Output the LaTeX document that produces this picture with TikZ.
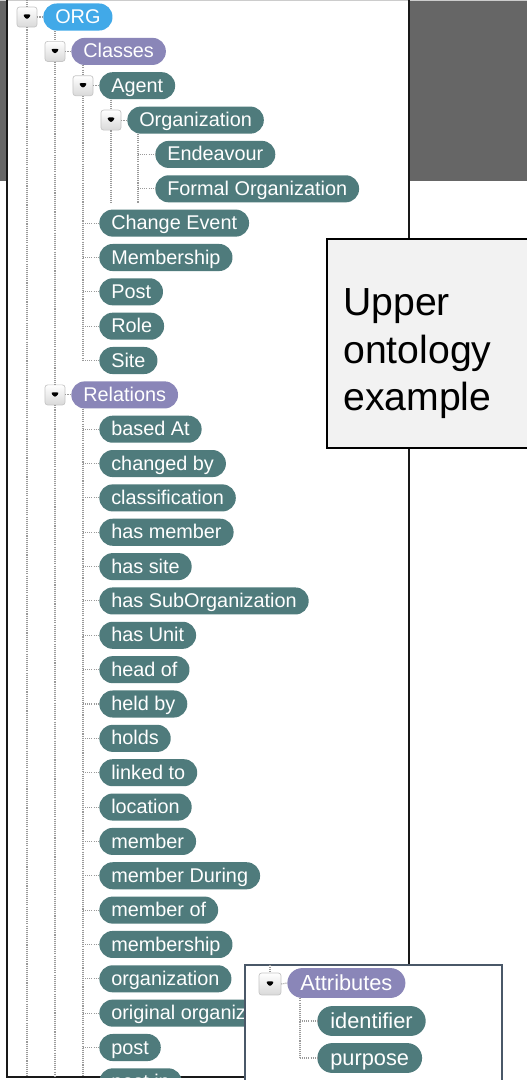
\documentclass[tikz,border=0pt]{standalone}
\usepackage{fontspec}
\setmainfont{Liberation Sans}

\definecolor{orgblue}{HTML}{41A9E8}
\definecolor{grpviolet}{HTML}{8A86B8}
\definecolor{leafteal}{HTML}{4F7B7C}
\definecolor{topgrey}{HTML}{666666}
\definecolor{spinegrey}{HTML}{9A9A9A}
\definecolor{notefill}{HTML}{F2F2F2}
\definecolor{insetedge}{HTML}{4A5868}

\tikzset{
  pill/.style={rounded corners=7.6pt, minimum height=15.4pt, inner xsep=6.8pt, inner ysep=0pt,
    text=white, text height=8pt, text depth=0.5pt, font=\fontsize{11.3}{13}\selectfont, anchor=west},
  orgpill/.style={pill, fill=orgblue},
  grppill/.style={pill, fill=grpviolet},
  leafpill/.style={pill, fill=leafteal},
  bigpill/.style={rounded corners=8.5pt, minimum height=17pt, inner xsep=7.4pt,
    text height=8.9pt, text depth=0.5pt, font=\fontsize{12.4}{14}\selectfont},
  toggle/.style={rectangle, rounded corners=1.5pt, minimum size=11.4pt, inner sep=0pt,
    draw=gray!45, top color=white, bottom color=gray!30,
    path picture={\fill[black] ([xshift=-2.6pt,yshift=1.5pt]path picture bounding box.center)
      -- ++(5.2pt,0) -- ++(-2.6pt,-3.2pt) -- cycle;}},
  dotline/.style={draw=spinegrey, line width=0.6pt, dash pattern=on 0.6pt off 0.6pt},
}

\begin{document}
\begin{tikzpicture}[x=0.02cm, y=-0.02cm]
  \useasboundingbox (0,0) rectangle (527,1080);

  % Grey backdrop and tree panel
  \fill [topgrey] (0,0) rectangle (527,181);
  \fill [white] (7,0) rectangle (409,1077);
  \draw [gray!40, line width=0.8pt] (0,0.5) -- (527,0.5);
  \draw [black!90, line width=1.1pt] (7,0) -- (7,1077) -- (409,1077) -- (409,0);
  \coordinate (paneltop) at (0,0);
  \coordinate (panelbottom) at (0,1077);

  % Classes branch
  \node (tORG) [toggle] at (27,17) {};
  \node (org) [orgpill] at (43,17) {ORG};
  \node (tClasses) [toggle] at (55,51.4) {};
  \node (classes) [grppill] at (71,51.4) {Classes};
  \node (tAgent) [toggle] at (83,85.7) {};
  \node (agent) [leafpill] at (99,85.7) {Agent};
  \node (tOrganization) [toggle] at (111,120.1) {};
  \node (organization) [leafpill] at (127,120.1) {Organization};
  \node (endeavour) [leafpill] at (155,154.4) {Endeavour};
  \node (formalorg) [leafpill] at (155,188.8) {Formal Organization};
  \node (changeevent) [leafpill] at (99,223.1) {Change Event};
  \node (membership) [leafpill] at (99,257.5) {Membership};
  \node (post) [leafpill] at (99,291.8) {Post};
  \node (role) [leafpill] at (99,326.2) {Role};
  \node (site) [leafpill] at (99,360.5) {Site};

  % Relations branch
  \node (tRelations) [toggle] at (55,394.9) {};
  \node (relations) [grppill] at (71,394.9) {Relations};
  \begin{scope}
    \clip (7,0) rectangle (409,1077);
    \foreach \rel [count=\i from 12] in {based At, changed by, classification, has member,
        has site, has SubOrganization, has Unit, head of, held by, holds, linked to,
        location, member, member During, member of, membership, organization,
        original organization, post, post in}
      \node (rel\i) [leafpill] at (99,{17+34.35*\i}) {\rel};
  \end{scope}

  % Tree lines
  \draw [dotline] (tORG |- paneltop) -- (tORG.north);
  \draw [dotline] (tORG.south) -- (tORG |- panelbottom);
  \draw [dotline] (tClasses |- org.south) -- (tClasses.north);
  \draw [dotline] (tClasses.south) -- (tRelations.north);
  \draw [dotline] (tRelations.south) -- (tRelations |- panelbottom);
  \draw [dotline] (tAgent |- classes.south) -- (tAgent.north);
  \draw [dotline] (tAgent.south) -- (tAgent |- site.west);
  \draw [dotline] (tOrganization |- agent.south) -- (tOrganization.north);
  \draw [dotline] (tOrganization.south) -- (tOrganization |- formalorg.south);
  \coordinate (orgspine) at (138,0);
  \draw [dotline] (orgspine |- organization.south) -- (orgspine |- formalorg.south);
  \coordinate (relspine) at (83,0);
  \draw [dotline] (relspine |- relations.south) -- (relspine |- panelbottom);

  \foreach \t/\p in {tORG/org, tClasses/classes, tAgent/agent, tOrganization/organization,
      tRelations/relations}
    \draw [dotline] (\t.east) -- (\p.west);
  \foreach \p in {endeavour, formalorg}
    \draw [dotline] (orgspine |- \p.west) -- (\p.west);
  \foreach \p in {changeevent, membership, post, role, site}
    \draw [dotline] (tAgent |- \p.west) -- (\p.west);
  \foreach \i in {12,...,30}
    \draw [dotline] (relspine |- rel\i.west) -- (rel\i.west);

  % Callout
  \draw [black, line width=1pt, fill=notefill] (327,239) rectangle (532,448);
  \node (note) [anchor=base west, align=left, inner sep=0pt,
    font=\fontsize{22.3}{27}\selectfont] at (343,410.5) {Upper\\ontology\\example};

  % Attributes inset
  \draw [insetedge, line width=1pt, fill=white] (245,965) rectangle (502,1084);
  \node (tAttributes) [toggle, minimum size=12.5pt] at (270,984) {};
  \node (attributes) [grppill, bigpill] at (287,983) {Attributes};
  \node (identifier) [leafpill, bigpill] at (317,1021) {identifier};
  \node (purpose) [leafpill, bigpill] at (317,1058) {purpose};
  \coordinate (attspine) at (300,0);
  \draw [dotline] (tAttributes |- 0,965) -- (tAttributes.north);
  \draw [dotline] (tAttributes.east) -- (attributes.west);
  \draw [dotline] (attspine |- attributes.south) -- (attspine |- purpose.west);
  \foreach \p in {identifier, purpose}
    \draw [dotline] (attspine |- \p.west) -- (\p.west);
\end{tikzpicture}
\end{document}
